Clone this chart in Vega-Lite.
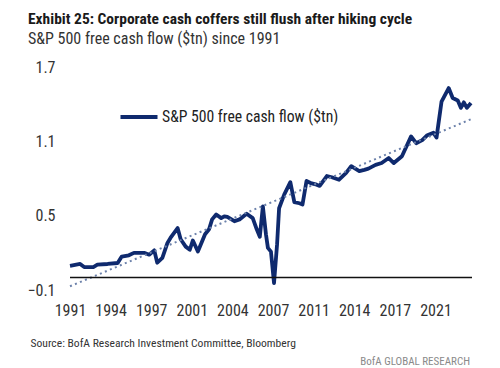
{
  "$schema": "https://vega.github.io/schema/vega-lite/v6.json",
  "padding": {"left": 26, "top": 11, "right": 24, "bottom": 2},
  "background": "white",
  "config": {"view": {"stroke": null}, "font": "Roboto Condensed, Roboto"},
  "title": {
    "text": "Exhibit 25: Corporate cash coffers still flush after hiking cycle",
    "subtitle": "S&P 500 free cash flow ($tn) since 1991",
    "anchor": "start",
    "frame": "group",
    "font": "Roboto Condensed, Roboto",
    "fontSize": 15.5,
    "fontWeight": "bold",
    "color": "#1a1a1a",
    "subtitleFont": "Roboto Condensed, Roboto",
    "subtitleFontSize": 16,
    "subtitleColor": "#333333",
    "subtitlePadding": 4,
    "offset": 12,
    "dx": -42
  },
  "vconcat": [
    {
      "width": 402,
      "height": 223,
      "title": {
        "text": "BofA GLOBAL RESEARCH",
        "orient": "bottom",
        "anchor": "end",
        "frame": "group",
        "fontSize": 11,
        "fontWeight": "normal",
        "color": "#8a8a8a",
        "offset": 7,
        "dx": -2
      },
      "layer": [
        {
          "data": {"values": [
            {"date": "1991-01-01", "value": 0.095},
            {"date": "1991-11-01", "value": 0.11},
            {"date": "1992-03-01", "value": 0.085},
            {"date": "1992-12-01", "value": 0.085},
            {"date": "1993-04-01", "value": 0.104},
            {"date": "1994-02-01", "value": 0.11},
            {"date": "1994-12-01", "value": 0.118},
            {"date": "1995-04-01", "value": 0.17},
            {"date": "1995-11-01", "value": 0.18},
            {"date": "1996-04-01", "value": 0.2},
            {"date": "1997-02-01", "value": 0.2},
            {"date": "1997-07-01", "value": 0.185},
            {"date": "1997-12-01", "value": 0.22},
            {"date": "1998-03-01", "value": 0.12},
            {"date": "1998-08-01", "value": 0.16},
            {"date": "1999-01-01", "value": 0.28},
            {"date": "1999-04-01", "value": 0.32},
            {"date": "1999-11-01", "value": 0.4},
            {"date": "2000-02-01", "value": 0.31},
            {"date": "2000-07-01", "value": 0.25},
            {"date": "2000-11-01", "value": 0.225},
            {"date": "2001-02-01", "value": 0.3},
            {"date": "2001-07-01", "value": 0.21},
            {"date": "2002-02-01", "value": 0.35},
            {"date": "2002-06-01", "value": 0.39},
            {"date": "2002-09-01", "value": 0.47},
            {"date": "2003-01-01", "value": 0.51},
            {"date": "2003-06-01", "value": 0.48},
            {"date": "2003-09-01", "value": 0.495},
            {"date": "2003-12-01", "value": 0.49},
            {"date": "2004-07-01", "value": 0.455},
            {"date": "2004-12-01", "value": 0.47},
            {"date": "2005-07-01", "value": 0.515},
            {"date": "2006-01-01", "value": 0.48},
            {"date": "2006-05-01", "value": 0.39},
            {"date": "2006-08-01", "value": 0.33},
            {"date": "2006-11-01", "value": 0.575},
            {"date": "2007-02-01", "value": 0.35},
            {"date": "2007-04-01", "value": 0.24},
            {"date": "2007-07-01", "value": 0.21},
            {"date": "2007-10-01", "value": -0.045},
            {"date": "2008-01-01", "value": 0.27},
            {"date": "2008-03-01", "value": 0.56},
            {"date": "2008-08-01", "value": 0.67},
            {"date": "2009-02-01", "value": 0.77},
            {"date": "2009-06-01", "value": 0.61},
            {"date": "2009-11-01", "value": 0.6},
            {"date": "2010-02-01", "value": 0.59},
            {"date": "2010-06-01", "value": 0.78},
            {"date": "2010-11-01", "value": 0.76},
            {"date": "2011-04-01", "value": 0.75},
            {"date": "2011-07-01", "value": 0.74},
            {"date": "2012-02-01", "value": 0.82},
            {"date": "2012-07-01", "value": 0.81},
            {"date": "2013-02-01", "value": 0.79},
            {"date": "2013-09-01", "value": 0.845},
            {"date": "2014-02-01", "value": 0.9},
            {"date": "2014-10-01", "value": 0.86},
            {"date": "2015-03-01", "value": 0.87},
            {"date": "2015-07-01", "value": 0.88},
            {"date": "2016-02-01", "value": 0.91},
            {"date": "2016-08-01", "value": 0.925},
            {"date": "2017-03-01", "value": 0.965},
            {"date": "2017-08-01", "value": 0.925},
            {"date": "2018-04-01", "value": 0.98},
            {"date": "2019-01-01", "value": 1.14},
            {"date": "2019-06-01", "value": 1.085},
            {"date": "2019-12-01", "value": 1.11},
            {"date": "2020-05-01", "value": 1.15},
            {"date": "2020-11-01", "value": 1.17},
            {"date": "2021-02-01", "value": 1.13},
            {"date": "2021-07-01", "value": 1.42},
            {"date": "2022-02-01", "value": 1.53},
            {"date": "2022-06-01", "value": 1.45},
            {"date": "2022-11-01", "value": 1.43},
            {"date": "2023-02-01", "value": 1.37},
            {"date": "2023-05-01", "value": 1.415},
            {"date": "2023-08-01", "value": 1.37},
            {"date": "2023-12-01", "value": 1.41}
          ]},
          "mark": {"type": "line", "strokeWidth": 3.8, "strokeJoin": "round"},
          "encoding": {
            "x": {
              "field": "date",
              "type": "temporal",
              "scale": {"type": "utc", "domain": [{"year": 1991, "month": 1, "date": 1, "utc": true}, {"year": 2024, "month": 1, "date": 1, "utc": true}]},
              "axis": {
                "values": [
                  {"year": 1991, "month": 1, "date": 1, "utc": true},
                  {"year": 1994, "month": 5, "date": 1, "utc": true},
                  {"year": 1997, "month": 9, "date": 1, "utc": true},
                  {"year": 2001, "month": 1, "date": 1, "utc": true},
                  {"year": 2004, "month": 5, "date": 1, "utc": true},
                  {"year": 2007, "month": 9, "date": 1, "utc": true},
                  {"year": 2011, "month": 1, "date": 1, "utc": true},
                  {"year": 2014, "month": 5, "date": 1, "utc": true},
                  {"year": 2017, "month": 9, "date": 1, "utc": true},
                  {"year": 2021, "month": 1, "date": 1, "utc": true}
                ],
                "format": "%Y",
                "domain": false,
                "ticks": false,
                "grid": false,
                "labelFlush": false,
                "labelOverlap": false,
                "labelPadding": 12,
                "labelFontSize": 16,
                "labelColor": "#333333",
                "title": "Source:  BofA Research Investment Committee, Bloomberg",
                "titleFontSize": 11.6,
                "titleFontWeight": "normal",
                "titleColor": "#333333",
                "titleAlign": "left",
                "titleX": -40,
                "titlePadding": 19
              }
            },
            "y": {
              "field": "value",
              "type": "quantitative",
              "scale": {"domain": [-0.1, 1.7], "nice": false, "zero": false},
              "axis": {
                "values": [-0.1, 0.5, 1.1, 1.7],
                "format": ".1f",
                "title": null,
                "domain": false,
                "ticks": false,
                "grid": false,
                "labelFlush": false,
                "labelOverlap": false,
                "labelPadding": 15,
                "labelFontSize": 16,
                "labelColor": "#333333"
              }
            },
            "color": {
              "datum": "S&P 500 free cash flow ($tn)",
              "type": "nominal",
              "scale": {"range": ["#0f2a6e"]},
              "legend": {
                "orient": "none",
                "legendX": 48,
                "legendY": 29,
                "title": null,
                "symbolType": "stroke",
                "symbolSize": 1370,
                "symbolStrokeWidth": 4,
                "labelFontSize": 15.7,
                "labelLimit": 0,
                "labelColor": "#222222",
                "labelOffset": 2
              }
            }
          }
        },
        {
          "data": {"values": [
            {"date": "1991-01-01", "trend": -0.07},
            {"date": "2023-12-15", "trend": 1.28}
          ]},
          "mark": {"type": "line", "color": "#6d82ab", "strokeWidth": 2, "strokeDash": [2, 3.4]},
          "encoding": {
            "x": {"field": "date", "type": "temporal"},
            "y": {"field": "trend", "type": "quantitative"}
          }
        },
        {
          "data": {"values": [{"level": "zero"}]},
          "mark": {"type": "rule", "color": "#111111", "strokeWidth": 1.5},
          "encoding": {"y": {"datum": 0, "type": "quantitative"}}
        }
      ]
    }
  ]
}
